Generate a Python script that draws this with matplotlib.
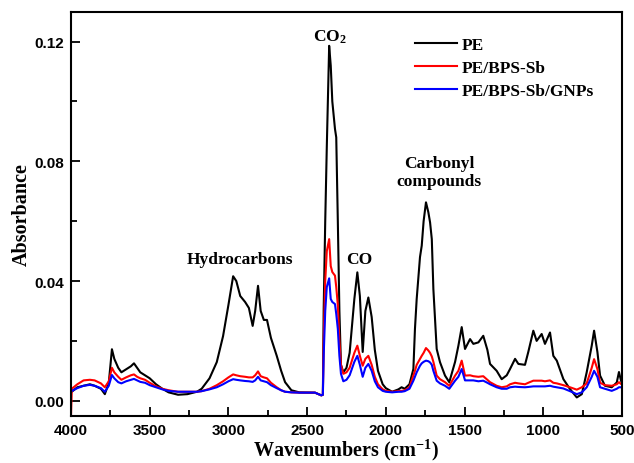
import numpy as np
import matplotlib
matplotlib.use("Agg")
from matplotlib import pyplot as plt
from matplotlib.ticker import MultipleLocator, FormatStrFormatter

plt.rcParams["mathtext.fontset"] = "custom"
plt.rcParams["mathtext.rm"] = "Liberation Serif"
plt.rcParams["mathtext.it"] = "Liberation Serif:italic"
plt.rcParams["mathtext.bf"] = "Liberation Serif:bold"

# wavenumbers (cm-1) and absorbance
wn = [4000, 3995, 3960, 3920, 3880, 3850, 3810, 3785, 3760, 3740, 3725, 3700,
      3680, 3650, 3620, 3600, 3580, 3560, 3530, 3500, 3460, 3420, 3380, 3320,
      3260, 3200, 3170, 3120, 3074, 3034, 3000, 2970, 2950, 2925, 2894, 2870,
      2846, 2830, 2812, 2795, 2775, 2755, 2730, 2693, 2665, 2640, 2600, 2550,
      2450, 2410, 2400, 2395, 2385, 2375, 2360, 2350, 2340, 2323, 2315, 2305,
      2295, 2285, 2270, 2250, 2230, 2200, 2181, 2165, 2147, 2130, 2111, 2090,
      2070, 2050, 2020, 2000, 1960, 1920, 1900, 1880, 1850, 1825, 1815, 1804,
      1783, 1772, 1760, 1745, 1730, 1719, 1708, 1698, 1677, 1656, 1624, 1597,
      1560, 1539, 1518, 1497, 1465, 1444, 1412, 1381, 1355, 1338, 1296, 1264,
      1232, 1211, 1179, 1158, 1116, 1095, 1063, 1042, 1010, 989, 957, 936,
      914, 872, 830, 787, 755, 724, 692, 677, 656, 639, 608, 565, 533, 519,
      506, 500]

pe = [0.003, 0.003, 0.0045, 0.005, 0.0055, 0.005, 0.004, 0.0022, 0.006, 0.0172,
      0.014, 0.011, 0.0095, 0.0105, 0.0115, 0.0125, 0.011, 0.0095, 0.0085, 0.0075,
      0.0055, 0.004, 0.0028, 0.002, 0.0022, 0.003, 0.004, 0.0075, 0.0129, 0.0216,
      0.032, 0.0416, 0.040, 0.035, 0.033, 0.031, 0.025, 0.030, 0.0384, 0.030,
      0.027, 0.027, 0.021, 0.015, 0.010, 0.0062, 0.0035, 0.0028, 0.0027, 0.0018,
      0.002, 0.03, 0.06, 0.085, 0.1186, 0.112, 0.100, 0.0908, 0.088, 0.060,
      0.030, 0.012, 0.0095, 0.011, 0.016, 0.034, 0.0429, 0.035, 0.0163, 0.030,
      0.0345, 0.028, 0.017, 0.010, 0.0055, 0.0042, 0.003, 0.0038, 0.0045, 0.004,
      0.0055, 0.0106, 0.024, 0.034, 0.048, 0.0518, 0.060, 0.0663, 0.063, 0.0596,
      0.054, 0.0373, 0.0173, 0.0129, 0.0084, 0.0062, 0.013, 0.0184, 0.0246, 0.0173,
      0.0206, 0.019, 0.0195, 0.0217, 0.017, 0.0123, 0.010, 0.0072, 0.0085, 0.0106,
      0.014, 0.0123, 0.012, 0.0163, 0.0234, 0.020, 0.0223, 0.019, 0.0228, 0.015,
      0.0134, 0.0072, 0.0039, 0.0011, 0.0022, 0.0095, 0.0184, 0.0234, 0.0163, 0.0084,
      0.005, 0.0045, 0.0061, 0.0096, 0.0067, 0.006]

pe_bps = [-0.005, 0.004, 0.0055, 0.0068, 0.007, 0.0068, 0.0058, 0.0045, 0.0065, 0.011,
          0.0095, 0.008, 0.007, 0.0078, 0.0085, 0.0088, 0.008, 0.0075, 0.007, 0.006,
          0.0048, 0.004, 0.0035, 0.003, 0.003, 0.003, 0.0032, 0.004, 0.0052, 0.0065,
          0.0078, 0.0088, 0.0085, 0.0082, 0.008, 0.0078, 0.0078, 0.0085, 0.0098, 0.0082,
          0.0078, 0.0075, 0.006, 0.0045, 0.0035, 0.003, 0.0028, 0.0027, 0.0027, 0.0018,
          0.002, 0.02, 0.04, 0.05, 0.054, 0.045, 0.043, 0.0418, 0.038, 0.032,
          0.02, 0.012, 0.009, 0.0095, 0.011, 0.016, 0.0184, 0.015, 0.0117, 0.014,
          0.015, 0.012, 0.008, 0.0055, 0.0038, 0.0033, 0.003, 0.0032, 0.0033, 0.0035,
          0.0045, 0.0084, 0.010, 0.012, 0.014, 0.015, 0.016, 0.0176, 0.0168, 0.016,
          0.0148, 0.013, 0.0084, 0.0072, 0.0062, 0.005, 0.0084, 0.010, 0.0134, 0.0084,
          0.0085, 0.0082, 0.008, 0.0082, 0.007, 0.0062, 0.005, 0.0045, 0.0048, 0.0055,
          0.006, 0.0058, 0.0055, 0.006, 0.0067, 0.0067, 0.0067, 0.0065, 0.0068, 0.006,
          0.0058, 0.0052, 0.0045, 0.0037, 0.0045, 0.0058, 0.011, 0.0139, 0.0106, 0.006,
          0.0052, 0.005, 0.0055, 0.0062, 0.0056, 0.0055]

pe_bps_gnp = [0.003, 0.0033, 0.0042, 0.005, 0.0053, 0.005, 0.0042, 0.003, 0.005, 0.0086,
              0.0075, 0.0062, 0.0058, 0.0065, 0.007, 0.0073, 0.0068, 0.0063, 0.006, 0.0052,
              0.0045, 0.0038, 0.0033, 0.003, 0.003, 0.003, 0.0032, 0.0038, 0.0045, 0.0055,
              0.0065, 0.0072, 0.007, 0.0068, 0.0066, 0.0065, 0.0063, 0.0068, 0.008, 0.0068,
              0.0065, 0.0062, 0.0052, 0.0042, 0.0035, 0.003, 0.0028, 0.0027, 0.0027, 0.0018,
              0.002, 0.015, 0.03, 0.038, 0.0409, 0.034, 0.033, 0.0323, 0.029, 0.024,
              0.015, 0.009, 0.0065, 0.007, 0.0085, 0.013, 0.015, 0.012, 0.008, 0.011,
              0.0123, 0.010, 0.0065, 0.0045, 0.0033, 0.003, 0.0028, 0.003, 0.003, 0.0032,
              0.004, 0.0067, 0.008, 0.0095, 0.0117, 0.0125, 0.013, 0.0134, 0.0132, 0.0128,
              0.012, 0.010, 0.0067, 0.0058, 0.005, 0.004, 0.0067, 0.008, 0.0106, 0.0068,
              0.0068, 0.0068, 0.0065, 0.0067, 0.006, 0.0055, 0.0045, 0.004, 0.004, 0.0045,
              0.0047, 0.0046, 0.0045, 0.0046, 0.0048, 0.0048, 0.0048, 0.0048, 0.005, 0.0047,
              0.0045, 0.0041, 0.0032, 0.0022, 0.0028, 0.0045, 0.008, 0.010, 0.008, 0.0045,
              0.004, 0.0033, 0.004, 0.0045, 0.0045, 0.0045]

labels = ["PE", "PE/BPS-Sb", "PE/BPS-Sb/GNPs"]
colors = ["black", "red", "blue"]

serif = "Liberation Serif"
sans = "Liberation Sans"

fig = plt.figure(figsize=(6.34, 4.64), dpi=100)
ax = fig.add_axes([0.112, 0.1013, 0.869, 0.8707])

for y, lab, c in zip([pe, pe_bps, pe_bps_gnp], labels, colors):
    ax.plot(wn, y, color=c, lw=1.5, label=lab)

ax.set_xlim(4000, 500)
ax.set_ylim(-0.0051, 0.1299)
ax.xaxis.set_major_locator(MultipleLocator(500))
ax.xaxis.set_minor_locator(MultipleLocator(250))
ax.yaxis.set_major_locator(MultipleLocator(0.04))
ax.yaxis.set_minor_locator(MultipleLocator(0.02))
ax.yaxis.set_major_formatter(FormatStrFormatter("%.2f"))

ax.tick_params(which="major", direction="in", length=6.5, width=1.3,
               labelsize=11, pad=5)
ax.tick_params(which="minor", direction="in", length=4, width=1.3)
for lab in ax.get_xticklabels() + ax.get_yticklabels():
    lab.set_fontfamily(sans)
    lab.set_fontweight("bold")
for sp in ax.spines.values():
    sp.set_linewidth(1.5)

ax.set_xlabel("Wavenumbers (cm$^{\\mathbf{-1}}$)", fontfamily=serif,
              fontweight="bold", fontsize=14.5, labelpad=0)
ax.set_ylabel("Absorbance", fontfamily=serif, fontweight="bold",
              fontsize=14.5, labelpad=2)

txt = dict(fontfamily=serif, fontweight="bold", fontsize=12.5,
           ha="center", va="center")
ax.text(2355, 0.1218, "CO$_\\mathbf{2}$", **txt)
ax.text(2926, 0.0473, "Hydrocarbons", **txt)
ax.text(2167, 0.0473, "CO", **txt)
ax.text(1662, 0.0764, "Carbonyl\ncompounds", linespacing=1.1, **txt)

ax.legend(loc="upper left", bbox_to_anchor=(0.612, 0.956), frameon=False,
          prop={"family": serif, "weight": "bold", "size": 12.5},
          handlelength=2.4, handletextpad=0.3, labelspacing=0.4,
          borderaxespad=0)

fig.savefig("out.png", dpi=100)
